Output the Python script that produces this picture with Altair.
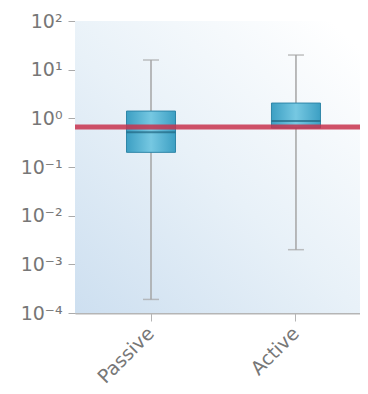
import altair as alt
import pandas as pd

categories = ["Passive", "Active"]
whisker_low = [1.9e-4, 2.0e-3]
q1 = [0.20, 0.63]
median = [0.52, 0.88]
q3 = [1.41, 2.06]
whisker_high = [15.8, 20.0]
threshold = [0.66]
y_ticks = [1e-4, 1e-3, 1e-2, 1e-1, 1, 10, 100]

df = pd.DataFrame({
    "cat": categories, "low": whisker_low, "q1": q1,
    "median": median, "q3": q3, "high": whisker_high,
})
thr = pd.DataFrame({"v": threshold})
bg = pd.DataFrame({"a": [0]})

W, H = 285, 292
FONT = "DejaVu Sans"

xscale = alt.Scale(domain=categories, paddingInner=0.65, paddingOuter=0.308, align=0.567)
yscale = alt.Scale(type="log", domain=[1e-4, 100])

xenc = alt.X("cat:N", scale=xscale, sort=categories, title=None,
             axis=alt.Axis(labelAngle=-45, labelAlign="right", labelBaseline="middle",
                           labelFontSize=19, labelColor="#777", labelFont=FONT,
                           domainColor="#b5b5b5", domainWidth=2, tickColor="#b5b5b5",
                           tickSize=8, labelPadding=9))

yaxis = alt.Axis(values=y_ticks, title=None, grid=False,
                 labelExpr="['10⁻⁴','10⁻³','10⁻²','10⁻¹','10⁰','10¹','10²'][round(log(datum.value)/LN10)+4]",
                 labelFontSize=19, labelColor="#777", labelFont=FONT,
                 domainColor="#aaaaaa", tickColor="#aaaaaa", tickSize=7, labelPadding=6)

background = alt.Chart(bg).mark_rect(
    color=alt.Gradient(gradient="linear",
                       stops=[alt.GradientStop(color="#cddff0", offset=0),
                              alt.GradientStop(color="#e8f1f8", offset=0.5),
                              alt.GradientStop(color="#ffffff", offset=1)],
                       x1=0, y1=1, x2=0.9, y2=0)
).encode(x=alt.value(0), x2=alt.value(W), y=alt.value(0), y2=alt.value(H))

base = alt.Chart(df)

whisker = base.mark_rule(color="#a5a5a5", strokeWidth=1.5).encode(
    x=xenc, y=alt.Y("low:Q", scale=yscale, axis=yaxis), y2="high:Q")
cap_low = base.mark_tick(color="#a5a5a5", size=16, thickness=1.5).encode(x=xenc, y="low:Q")
cap_high = base.mark_tick(color="#a5a5a5", size=16, thickness=1.5).encode(x=xenc, y="high:Q")

box = base.mark_bar(
    size=49, stroke="#2f86a8", strokeWidth=1,
    color=alt.Gradient(gradient="linear",
                       stops=[alt.GradientStop(color="#3c9fc3", offset=0),
                              alt.GradientStop(color="#76c8e2", offset=0.5),
                              alt.GradientStop(color="#3c9fc3", offset=1)],
                       x1=0, y1=0, x2=1, y2=0)
).encode(x=xenc, y="q1:Q", y2="q3:Q")

med = base.mark_tick(color="#1f6580", size=49, thickness=2).encode(x=xenc, y="median:Q")

redline = alt.Chart(thr).mark_rule(color="#c8324e", strokeWidth=5, opacity=0.85).encode(
    y=alt.Y("v:Q", scale=yscale))

chart = alt.layer(background, whisker, cap_low, cap_high, box, med, redline).properties(
    width=W, height=H,
    autosize=alt.AutoSizeParams(type="none"),
    padding={"left": 67, "top": 13, "right": 0, "bottom": 73},
).configure_view(stroke=None)

chart.save("out.html", embed_options={"renderer": "svg", "actions": False})
